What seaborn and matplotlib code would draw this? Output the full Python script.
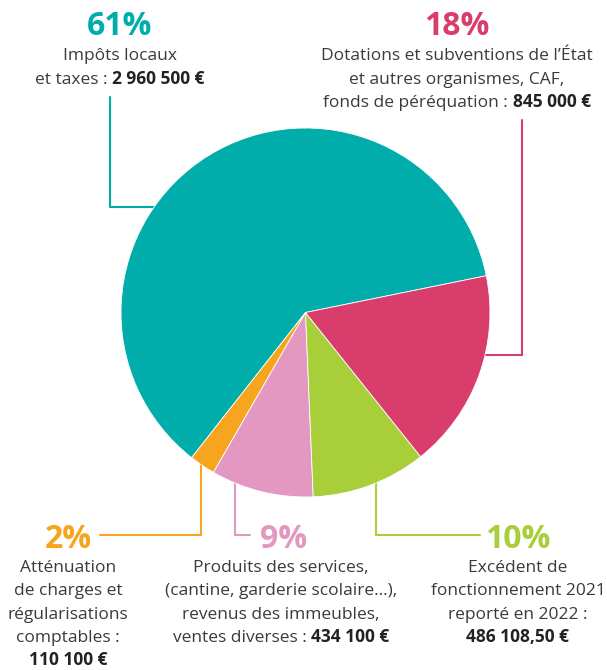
import matplotlib
matplotlib.use("Agg")
import matplotlib.pyplot as plt
import seaborn as sns
import pandas as pd

sns.set_theme(style="white")
plt.rcParams['font.family'] = ['Open Sans', 'DejaVu Sans']

# données (ordre antihoraire à partir des impôts)
postes = ["Impôts locaux", "Atténuation", "Produits des services", "Excédent 2021", "Dotations"]
montants = [2960500, 110100, 434100, 486108.50, 845000]
pourcentages = ["61%", "2%", "9%", "10%", "18%"]
couleurs = ["#00ADAA", "#F7A51F", "#E298C0", "#A8CE3A", "#D93D6B"]
legendes = [
    [("Impôts locaux", ""), ("et taxes :", "2 960 500 €")],
    [("Atténuation", ""), ("de charges et", ""), ("régularisations", ""),
     ("comptables :", ""), ("", "110 100 €")],
    [("Produits des services,", ""), ("(cantine, garderie scolaire…),", ""),
     ("revenus des immeubles,", ""), ("ventes diverses :", "434 100 €")],
    [("Excédent de", ""), ("fonctionnement 2021", ""), ("reporté en 2022 :", ""),
     ("", "486 108,50 €")],
    [("Dotations et subventions de l’État", ""), ("et autres organismes, CAF,", ""),
     ("fonds de péréquation :", "845 000 €")],
]

df = pd.DataFrame({"poste": postes, "montant": montants, "pct": pourcentages, "couleur": couleurs})

W, H = 607, 670
def Y(y):
    return H - y

# mise en page en pixels de l'image (x centre, ligne de base %, 1re ligne de base texte, pas)
ancres = [(120, 35, 60, 23.5), (68, 548, 572, 23.3), (281, 548, 572, 23.3),
          (518, 548, 572, 23.3), (457, 35, 60, 23.5)]
pct_x = [120, 68, 284, 518, 457]
traits = [
    [(170, 207), (110, 207), (110, 97)],
    [(201, 450), (201, 535), (100, 535)],
    [(235, 470), (235, 535), (250, 535)],
    [(376, 470), (376, 535), (480, 535)],
    [(470, 355), (521.5, 355), (521.5, 120)],
]

fig = plt.figure(figsize=(W / 100, H / 100), dpi=100)
ax = fig.add_axes([0, 0, 1, 1])

for pts, c in zip(traits, df["couleur"]):
    ax.plot([p[0] for p in pts], [Y(p[1]) for p in pts], color=c, lw=1.5,
            solid_joinstyle="miter", zorder=1)

ax.pie(df["montant"], colors=df["couleur"], startangle=11.5, counterclock=True,
       center=(305.5, Y(312.5)), radius=184.5,
       wedgeprops=dict(linewidth=0.6, edgecolor="white", zorder=2))

ax.set_xlim(0, W)
ax.set_ylim(0, H)
ax.set_aspect("equal")
ax.axis("off")

renderer = fig.canvas.get_renderer()
body_size = 12.5
gap = 4.5
for i, row in df.iterrows():
    cx, pct_base, base0, step = ancres[i]
    ax.text(pct_x[i], Y(pct_base), row["pct"], color=row["couleur"], fontsize=23,
            fontweight="bold", ha="center", va="baseline")
    for j, (normal, gras) in enumerate(legendes[i]):
        yb = Y(base0 + j * step)
        if normal and gras:
            t1 = ax.text(0, yb, normal, fontsize=body_size, color="#3a3a3a", ha="left", va="baseline")
            t2 = ax.text(0, yb, gras, fontsize=body_size, color="#222222", fontweight="bold",
                         ha="left", va="baseline")
            w1 = t1.get_window_extent(renderer=renderer).width
            w2 = t2.get_window_extent(renderer=renderer).width
            x0 = cx - (w1 + gap + w2) / 2
            t1.set_x(x0)
            t2.set_x(x0 + w1 + gap)
        elif gras:
            ax.text(cx, yb, gras, fontsize=body_size, color="#222222", fontweight="bold",
                    ha="center", va="baseline")
        else:
            ax.text(cx, yb, normal, fontsize=body_size, color="#3a3a3a", ha="center", va="baseline")

fig.savefig("out.png", dpi=100)
